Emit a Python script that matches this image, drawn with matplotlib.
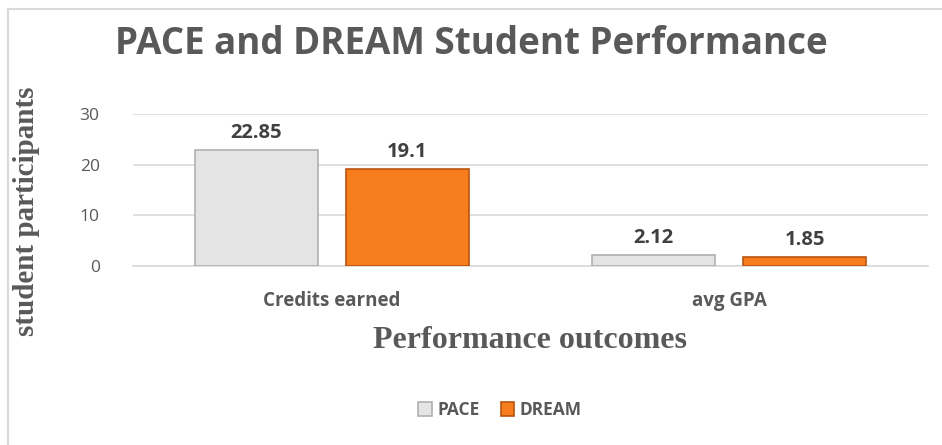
import matplotlib.pyplot as plt
import matplotlib.patches as mpatches
import numpy as np

# Chart data
categories = ['Credits earned', 'avg GPA']
series_names = ['PACE', 'DREAM']
pace = [22.85, 2.12]
dream = [19.1, 1.85]
yticks = [0, 10, 20, 30]

text_gray = '#595959'
pace_color = '#e4e4e4'
pace_edge = '#b0b0b0'
dream_color = '#f87d1c'
dream_edge = '#b85510'

fig = plt.figure(figsize=(9.42, 4.45), dpi=100)
ax = fig.add_axes([133/942, 179/445, 795/942, 152/445])

x = np.arange(len(categories))
w = 0.31
off = 0.19
b1 = ax.bar(x - off, pace, width=w, color=pace_color, edgecolor=pace_edge, linewidth=1.2, label=series_names[0], zorder=3)
b2 = ax.bar(x + off, dream, width=w, color=dream_color, edgecolor=dream_edge, linewidth=1.2, label=series_names[1], zorder=3)

# value labels above bars
for bars in (b1, b2):
    for rect in bars:
        h = rect.get_height()
        ax.annotate(f'{h:g}', (rect.get_x() + rect.get_width()/2, h), xytext=(0, 5),
                    textcoords='offset points', ha='center', va='bottom',
                    fontsize=14.5, fontweight='bold', color='#404040', family='Open Sans')

ax.set_xlim(-0.5, 1.5)
ax.set_ylim(0, 30)
ax.set_yticks(yticks)
ax.set_xticks(x)
ax.set_xticklabels(categories, fontsize=13.5, fontweight='bold', color=text_gray, family='Open Sans')
ax.tick_params(axis='y', labelsize=12.5, labelcolor=text_gray, length=0, pad=24)
ax.tick_params(axis='x', length=0, pad=18)
for lbl in ax.get_yticklabels():
    lbl.set_family('Open Sans')
ax.grid(axis='y', color='#d9d9d9', linewidth=1.2, zorder=0)
for s in ['top', 'right', 'left']:
    ax.spines[s].set_visible(False)
ax.spines['bottom'].set_color('#d9d9d9')
ax.spines['bottom'].set_linewidth(1.2)

fig.text(530/942, 1 - 340/445, 'Performance outcomes', ha='center', va='center',
         fontsize=23, fontweight='bold', color=text_gray, family='Liberation Serif')
fig.text(27/942, 1 - 211/445, 'student participants', ha='center', va='center', rotation=90,
         fontsize=21, fontweight='bold', color=text_gray, family='Liberation Serif')

fig.text(0.5, 1 - 44/445, 'PACE and DREAM Student Performance', ha='center', va='center',
         fontsize=26.5, fontweight='bold', color=text_gray, family='Open Sans')

leg = fig.legend(handles=[b1, b2], labels=series_names, loc='center', bbox_to_anchor=(500/942, 1 - 410/445),
                 ncol=2, frameon=False, handlelength=0.8, handleheight=0.8, columnspacing=1.2, handletextpad=0.3,
                 prop={'family': 'Open Sans', 'weight': 'bold', 'size': 12.5})
for t in leg.get_texts():
    t.set_color(text_gray)

border = mpatches.Rectangle((8/942, -0.1), 1.2, 1.1 - 9/445, transform=fig.transFigure,
                            fill=False, edgecolor='#d9d9d9', linewidth=1.5)
fig.patches.append(border)

fig.savefig('out.png', dpi=100)
